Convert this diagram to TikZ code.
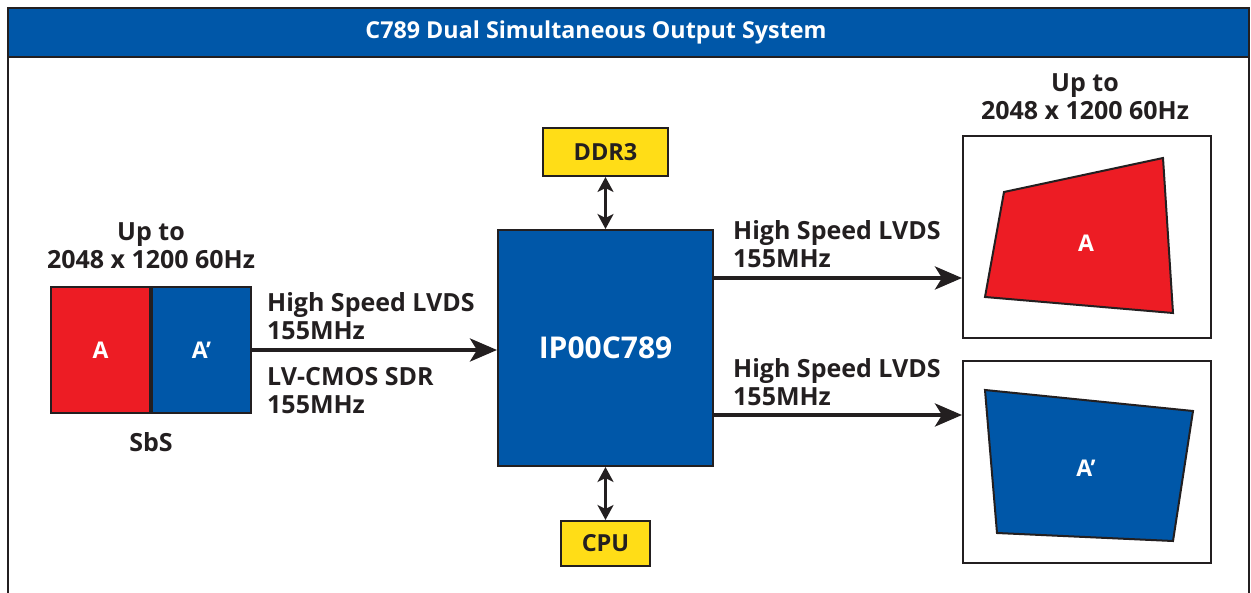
\documentclass[tikz,border=0pt]{standalone}
\usepackage{fontspec}
\setmainfont{Open Sans}
\usepackage{tikz}
\usetikzlibrary{arrows.meta,positioning}
\definecolor{sysInk}{HTML}{231F20}
\definecolor{sysBlue}{HTML}{0057A8}
\definecolor{sysRed}{HTML}{ED1C24}
\definecolor{sysYellow}{HTML}{FFDD17}
\tikzset{
  chipblock/.style={rectangle,draw=sysInk,line width=2pt,fill=sysBlue,text=white,
    minimum width=215pt,minimum height=236pt,font=\fontsize{30}{34}\selectfont\bfseries},
  memblock/.style={rectangle,draw=sysInk,line width=2pt,fill=sysYellow,text=sysInk,
    inner sep=0pt,font=\fontsize{23.5}{27}\selectfont\bfseries},
  halfblock/.style={rectangle,draw=sysInk,line width=2pt,text=white,inner sep=0pt,
    minimum width=99pt,minimum height=126pt,font=\fontsize{23}{27}\selectfont\bfseries},
  screen/.style={rectangle,draw=sysInk,line width=2pt,fill=white,
    minimum width=248pt,minimum height=202pt},
  warp/.style={draw=sysInk,line width=2pt,line join=miter},
  lbl/.style={text=sysInk,align=left,inner sep=0pt,font=\fontsize{25}{28.5}\selectfont\bfseries},
  clbl/.style={lbl,align=center},
  wlbl/.style={text=white,inner sep=0pt,font=\fontsize{23}{27}\selectfont\bfseries},
  arrow/.style={-{Stealth[length=27pt,width=23pt,inset=7pt]},draw=sysInk,line width=4pt},
  dblarrow/.style={{Stealth[length=15pt,width=16pt,inset=4pt]}-{Stealth[length=15pt,width=16pt,inset=4pt]},
    draw=sysInk,line width=3.5pt}
}
\begin{document}
\begin{tikzpicture}[x=1pt,y=-1pt]
  \useasboundingbox (0,0) rectangle (1251,593);
  % frame and title bar
  \fill[sysBlue] (8,8) rectangle (1249,57);
  \draw[sysInk,line width=2.5pt] (8,600) -- (8,8) -- (1249,8) -- (1249,600);
  \draw[sysInk,line width=2.5pt] (8,57) -- (1249,57);
  \node[wlbl,font=\fontsize{23.3}{27}\selectfont\bfseries] (title) at (596,32) {C789 Dual Simultaneous Output System};

  % processor and memory
  \node[chipblock] (chip) at (605.5,348) {IP00C789};
  \node[memblock,minimum width=125pt,minimum height=48pt,above=52pt of chip] (ddr) {DDR3};
  \node[memblock,minimum width=89pt,minimum height=45pt,below=53pt of chip] (cpu) {CPU};
  \draw[dblarrow] (ddr.south) -- (ddr.south |- chip.north);
  \draw[dblarrow] (chip.south) -- (chip.south |- cpu.north);

  % side-by-side input
  \node[halfblock,fill=sysRed] (ina) at (100.5,350) {A};
  \node[halfblock,fill=sysBlue,right=0pt of ina] (inb) {A’};
  \node[clbl,anchor=south,above=17pt of ina.north east] (inres) {Up to\\2048 x 1200 60Hz};
  \node[lbl,below=18pt of ina.south east] (sbs) {SbS};
  \draw[arrow] (inb.east) -- (chip.west |- inb.east);
  \node[lbl,anchor=south west] (inlvds) at (267,340) {High Speed LVDS\\155MHz};
  \node[lbl,anchor=north west] (incmos) at (267,367) {LV-CMOS SDR\\155MHz};

  % output displays
  \node[screen] (scra) at (1087,237) {};
  \node[screen] (scrb) at (1087,462) {};
  \node[clbl,anchor=south] (outres) at (1085,120) {Up to\\2048 x 1200 60Hz};
  \fill[sysRed,warp] (1004,192) -- (1163,158) -- (1173,313) -- (985,297) -- cycle;
  \fill[sysBlue,warp] (985,390) -- (1193,411) -- (1173,541) -- (997,533) -- cycle;
  \node[wlbl] (outa) at (1086,243) {A};
  \node[wlbl] (outb) at (1086,468) {A’};

  \coordinate (outy1) at (713,278);
  \coordinate (outy2) at (713,415);
  \draw[arrow] (chip.east |- outy1) -- (scra.west |- outy1);
  \draw[arrow] (chip.east |- outy2) -- (scrb.west |- outy2);
  \node[lbl,anchor=south west] (outlvds1) at (733,268) {High Speed LVDS\\155MHz};
  \node[lbl,anchor=south west] (outlvds2) at (733,406) {High Speed LVDS\\155MHz};
\end{tikzpicture}
\end{document}
